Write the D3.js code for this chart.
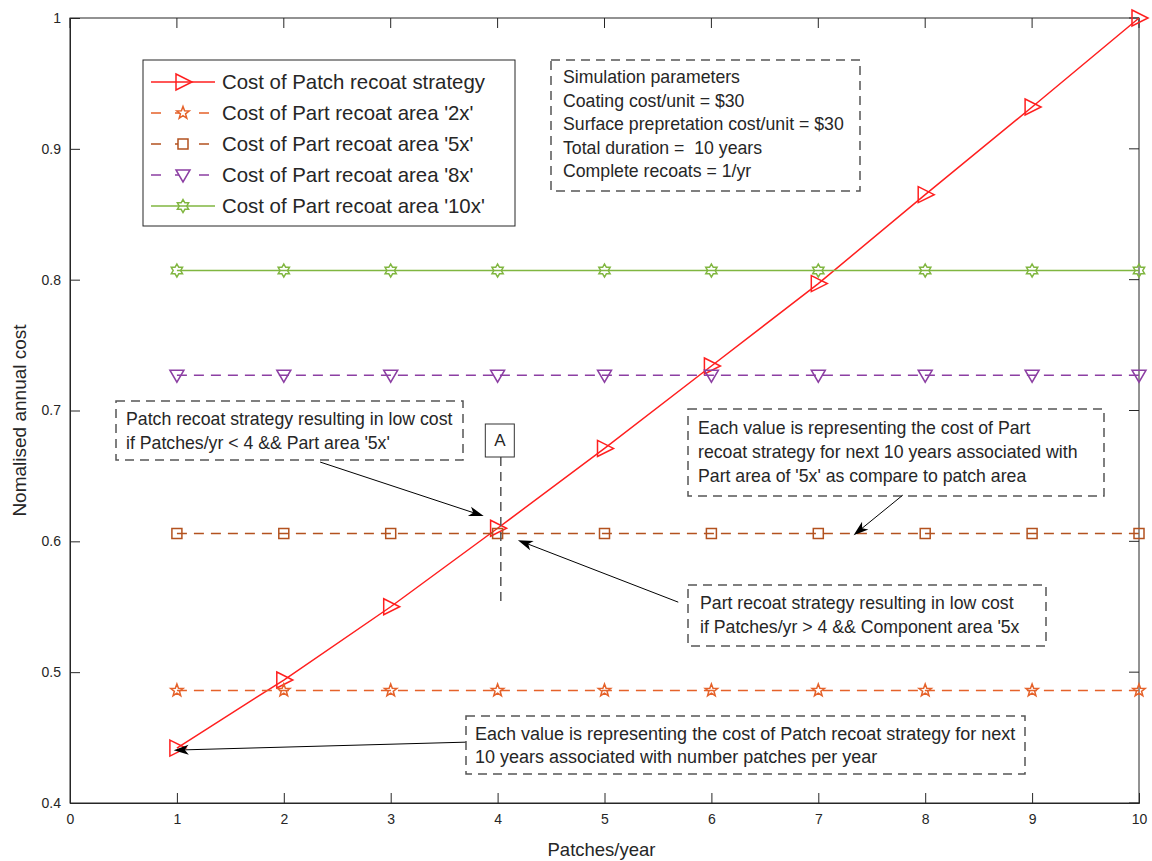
<!DOCTYPE html>
<html>
<head>
<meta charset="utf-8">
<script src="https://cdn.jsdelivr.net/npm/d3@7"></script>
<style>
  body { margin: 0; background: #fff; }
  svg text { font-family: "Liberation Sans", Arial, sans-serif; fill: #262626; white-space: pre; }
</style>
</head>
<body>
<svg id="chart" width="1152" height="861"></svg>
<script>
// data
var patches = [1, 2, 3, 4, 5, 6, 7, 8, 9, 10];
var patchCost = [0.442, 0.494, 0.550, 0.610, 0.671, 0.734, 0.797, 0.865, 0.932, 1.000];
var part2x  = [0.486, 0.486, 0.486, 0.486, 0.486, 0.486, 0.486, 0.486, 0.486, 0.486];
var part5x  = [0.606, 0.606, 0.606, 0.606, 0.606, 0.606, 0.606, 0.606, 0.606, 0.606];
var part8x  = [0.727, 0.727, 0.727, 0.727, 0.727, 0.727, 0.727, 0.727, 0.727, 0.727];
var part10x = [0.807, 0.807, 0.807, 0.807, 0.807, 0.807, 0.807, 0.807, 0.807, 0.807];
var seriesNames = ["Cost of Patch recoat strategy", "Cost of Part recoat area '2x'",
  "Cost of Part recoat area '5x'", "Cost of Part recoat area '8x'", "Cost of Part recoat area '10x'"];
var xTicks = [0, 1, 2, 3, 4, 5, 6, 7, 8, 9, 10];
var yTicks = [0.4, 0.5, 0.6, 0.7, 0.8, 0.9, 1];
var simParams = ["Simulation parameters", "Coating cost/unit = $30",
  "Surface prepretation cost/unit = $30", "Total duration =  10 years", "Complete recoats = 1/yr"];

var svg = d3.select("#chart");
var mLeft = 70, mRight = 1139, mTop = 18, mBottom = 803;

var x = d3.scaleLinear().domain([0, 10]).range([mLeft, mRight]);
var y = d3.scaleLinear().domain([0.4, 1]).range([mBottom, mTop]);

var series = [
  { name: seriesNames[0], values: patchCost, color: "#ff1f1f", dash: null, marker: "tri" },
  { name: seriesNames[1], values: part2x, color: "#e5622a", dash: "10,7", marker: "star" },
  { name: seriesNames[2], values: part5x, color: "#b3521f", dash: "10,7", marker: "square" },
  { name: seriesNames[3], values: part8x, color: "#8c3fa3", dash: "10,7", marker: "down" },
  { name: seriesNames[4], values: part10x, color: "#80b640", dash: null, marker: "hex" }
];

function markerPath(type) {
  var p = d3.path(), i, a, r;
  if (type == "tri") {
    p.moveTo(-7, -8); p.lineTo(9, 0); p.lineTo(-7, 8); p.closePath();
  } else if (type == "down") {
    p.moveTo(-7, -5); p.lineTo(7, -5); p.lineTo(0, 7); p.closePath();
  } else if (type == "square") {
    p.rect(-5, -5, 10, 10);
  } else if (type == "star") {
    for (i = 0; i < 10; i++) {
      a = -Math.PI / 2 + i * Math.PI / 5;
      r = i % 2 ? 2.7 : 6.5;
      if (i == 0) p.moveTo(r * Math.cos(a), r * Math.sin(a));
      else p.lineTo(r * Math.cos(a), r * Math.sin(a));
    }
    p.closePath();
  } else if (type == "hex") {
    for (i = 0; i < 12; i++) {
      a = -Math.PI / 2 + i * Math.PI / 6;
      r = i % 2 ? 6.5 / Math.sqrt(3) : 6.5;
      if (i == 0) p.moveTo(r * Math.cos(a), r * Math.sin(a));
      else p.lineTo(r * Math.cos(a), r * Math.sin(a));
    }
    p.closePath();
  }
  return p.toString();
}

// axes box
svg.append("rect")
  .attr("x", mLeft).attr("y", mTop)
  .attr("width", mRight - mLeft).attr("height", mBottom - mTop)
  .attr("fill", "none").attr("stroke", "#262626").attr("stroke-width", 1);

var xAxis = svg.append("g")
  .attr("transform", "translate(0," + mBottom + ")")
  .call(d3.axisBottom(x).tickValues(xTicks).tickSize(-10).tickPadding(11).tickFormat(d3.format("d")));
var yAxis = svg.append("g")
  .attr("transform", "translate(" + mLeft + ",0)")
  .call(d3.axisLeft(y).tickValues(yTicks).tickSize(-10).tickPadding(9).tickFormat(function(d) { return d == 1 ? "1" : d.toFixed(1); }));
[xAxis, yAxis].forEach(function(g) {
  g.select(".domain").attr("stroke", "#262626");
  g.selectAll(".tick line").attr("stroke", "#262626");
  g.selectAll(".tick text").style("font-size", "14px").attr("fill", "#262626")
    .style("font-family", "'Liberation Sans', Arial, sans-serif");
});

// top/right ticks like matlab box
svg.append("g").selectAll("line").data(xTicks).enter().append("line")
  .attr("x1", function(d) { return x(d); }).attr("x2", function(d) { return x(d); })
  .attr("y1", mTop).attr("y2", mTop + 10).attr("stroke", "#262626");
svg.append("g").selectAll("line").data(yTicks).enter().append("line")
  .attr("x1", mRight).attr("x2", mRight - 10)
  .attr("y1", function(d) { return y(d); }).attr("y2", function(d) { return y(d); })
  .attr("stroke", "#262626");

svg.append("text")
  .attr("x", (mLeft + mRight) / 2 - 3).attr("y", 856)
  .attr("text-anchor", "middle").style("font-size", "18.5px")
  .text("Patches/year");
svg.append("text")
  .attr("transform", "translate(26," + ((mTop + mBottom) / 2 + 10) + ") rotate(-90)")
  .attr("text-anchor", "middle").style("font-size", "19px")
  .text("Nomalised annual cost");

// lines and markers
var line = d3.line().x(function(d, i) { return x(patches[i]); }).y(function(d) { return y(d); });
series.forEach(function(s) {
  svg.append("path")
    .attr("d", line(s.values))
    .attr("fill", "none").attr("stroke", s.color).attr("stroke-width", 1.5)
    .attr("stroke-dasharray", s.dash);
  svg.append("g").selectAll("path").data(s.values).enter().append("path")
    .attr("transform", function(d, i) { return "translate(" + x(patches[i]) + "," + y(d) + ")"; })
    .attr("d", markerPath(s.marker))
    .attr("fill", "none").attr("stroke", s.color).attr("stroke-width", 1.5);
});

// legend
var legend = svg.append("g").attr("transform", "translate(143,60)");
legend.append("rect").attr("width", 372).attr("height", 166)
  .attr("fill", "#fff").attr("stroke", "#262626").attr("stroke-width", 1);
series.forEach(function(s, i) {
  var ly = 22 + i * 31;
  legend.append("line").attr("x1", 8).attr("x2", 72).attr("y1", ly).attr("y2", ly)
    .attr("stroke", s.color).attr("stroke-width", 1.5)
    .attr("stroke-dasharray", s.dash ? "10,14" : null);
  legend.append("path").attr("transform", "translate(40," + ly + ")")
    .attr("d", markerPath(s.marker))
    .attr("fill", s.dash ? "#fff" : "none").attr("stroke", s.color).attr("stroke-width", 1.5);
  legend.append("text").attr("x", 79).attr("y", ly + 7).style("font-size", "20.4px").text(s.name);
});

// annotation text boxes
function textBox(bx, by, bw, bh, lines, lineGap, firstY, pad, fs) {
  var g = svg.append("g").attr("transform", "translate(" + bx + "," + by + ")");
  g.append("rect").attr("width", bw).attr("height", bh)
    .attr("fill", "#fff").attr("stroke", "#555").attr("stroke-width", 1.5)
    .attr("stroke-dasharray", "9,6");
  lines.forEach(function(t, i) {
    g.append("text").attr("x", pad).attr("y", firstY + i * lineGap)
      .style("font-size", (fs || 17.7) + "px").text(t);
  });
  return g;
}

textBox(551, 60, 309, 131, simParams, 23.5, 23, 12);
textBox(116, 401, 347, 59, ["Patch recoat strategy resulting in low cost",
  "if Patches/yr < 4 && Part area '5x'"], 23.5, 24, 10);
textBox(688, 409, 416, 87, ["Each value is representing the cost of Part",
  "recoat strategy for next 10 years associated with",
  "Part area of '5x' as compare to patch area"], 24, 25, 10);
textBox(688, 585, 358, 61, ["Part recoat strategy resulting in low cost",
  "if Patches/yr > 4 && Component area '5x"], 24, 24, 12);
textBox(466, 716, 559, 58, ["Each value is representing the cost of Patch recoat strategy for next",
  "10 years associated with number patches per year"], 23, 24, 9, 18);

// marker "A" at the crossing
var aX = 4.03;
svg.append("line")
  .attr("x1", x(aX)).attr("x2", x(aX)).attr("y1", 457).attr("y2", y(0.553))
  .attr("stroke", "#555").attr("stroke-width", 1.5).attr("stroke-dasharray", "9,6");
svg.append("rect").attr("x", x(aX) - 15.5).attr("y", 424).attr("width", 29).attr("height", 33)
  .attr("fill", "#fff").attr("stroke", "#333").attr("stroke-width", 1);
svg.append("text").attr("x", x(aX) - 1).attr("y", 446).attr("text-anchor", "middle")
  .style("font-size", "17px").text("A");

// arrows (data units)
var arrows = [
  { from: [2.34, 0.6606], to: [3.87, 0.6193] },
  { from: [5.69, 0.5535], to: [4.19, 0.6009] },
  { from: [7.79, 0.6353], to: [7.33, 0.6047] },
  { from: [3.70, 0.4465], to: [0.97, 0.4404] }
];
arrows.forEach(function(a) {
  var x1 = x(a.from[0]), y1 = y(a.from[1]), x2 = x(a.to[0]), y2 = y(a.to[1]);
  var ang = Math.atan2(y2 - y1, x2 - x1);
  svg.append("line").attr("x1", x1).attr("y1", y1)
    .attr("x2", x2 - 8 * Math.cos(ang)).attr("y2", y2 - 8 * Math.sin(ang))
    .attr("stroke", "#000").attr("stroke-width", 1);
  var L = 15, W = 5, inset = 4;
  var bx = x2 - L * Math.cos(ang), by = y2 - L * Math.sin(ang);
  var mx = x2 - (L - inset) * Math.cos(ang), my = y2 - (L - inset) * Math.sin(ang);
  var pts = [[x2, y2],
    [bx + W * Math.sin(ang), by - W * Math.cos(ang)],
    [mx, my],
    [bx - W * Math.sin(ang), by + W * Math.cos(ang)]];
  svg.append("path").attr("d", "M" + pts.map(function(p) { return p.join(","); }).join("L") + "Z")
    .attr("fill", "#000");
});
</script>
</body>
</html>
